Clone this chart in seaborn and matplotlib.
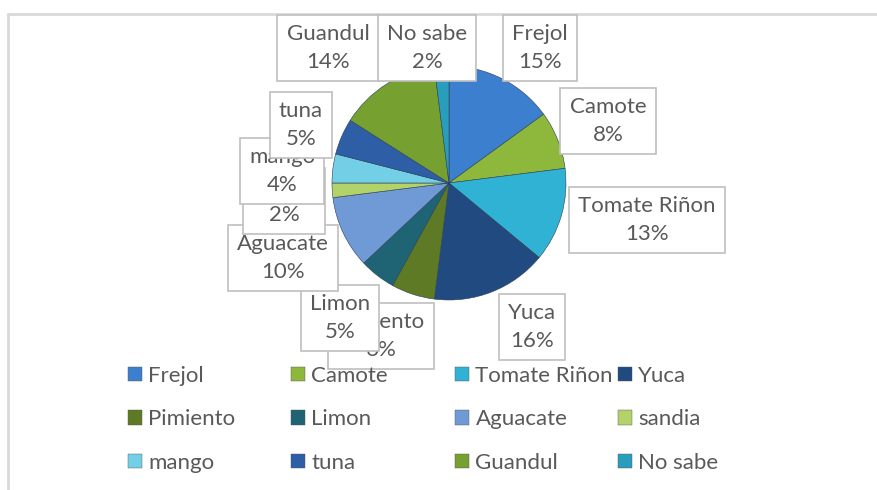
import matplotlib
matplotlib.use("Agg")
import matplotlib.pyplot as plt
import matplotlib.patches as mpatches
from matplotlib.lines import Line2D
import seaborn as sns

# data
cultivos = ["Frejol", "Camote", "Tomate Riñon", "Yuca", "Pimiento", "Limon",
            "Aguacate", "sandia", "mango", "tuna", "Guandul", "No sabe"]
porcentajes = [15, 8, 13, 16, 6, 5, 10, 2, 4, 5, 14, 2]
colores = ["#3d7fcf", "#8db83c", "#30b2d4", "#214a80", "#5e7a24", "#1f6475",
           "#6f9ad6", "#b3d36a", "#72cfe6", "#2e5ea6", "#76a02f", "#2a9cbc"]

# label box centres (pixels from top-left)
label_pos = [(540, 48), (608, 121), (647, 220), (532, 327), (381, 336), (340, 318),
             (283, 258), (284, 201), (282, 171), (301, 125), (328, 48), (427, 48)]

W, H = 877, 490
sns.set_style("white")
plt.rcParams["font.family"] = ["Lato", "DejaVu Sans"]
txt_color = "#595959"
fs = 16

fig = plt.figure(figsize=(W / 100, H / 100), dpi=100)

# chart frame (top and left lines)
fig.add_artist(Line2D([8 / W, 8 / W], [0, 1 - 14 / H], color="#d9d9d9", lw=2))
fig.add_artist(Line2D([8 / W, 1], [1 - 14 / H, 1 - 14 / H], color="#d9d9d9", lw=2))

# pie
cx, cy, r = 449, 183, 117
ax = fig.add_axes([(cx - r) / W, (H - cy - r) / H, 2 * r / W, 2 * r / H])
ax.pie(porcentajes, colors=colores, startangle=90, counterclock=False,
       wedgeprops=dict(edgecolor="#2b3f55", linewidth=0.4))
ax.set_xlim(-1, 1)
ax.set_ylim(-1, 1)
ax.axis("off")

# data labels
for i, (name, pct) in enumerate(zip(cultivos, porcentajes)):
    x, y = label_pos[i]
    fig.text(x / W, 1 - y / H, f"{name}\n{pct}%", ha="center", va="center",
             multialignment="center", fontsize=fs, color=txt_color,
             linespacing=1.5, zorder=5 + i,
             bbox=dict(boxstyle="square,pad=0.42", fc="white", ec="#bfbfbf", lw=1.2))

# legend: four columns, three rows
col_x = [128, 291, 455, 618]
for c in range(4):
    idx = [c, c + 4, c + 8]
    handles = [mpatches.Patch(facecolor=colores[k], edgecolor="#555555", lw=0.3) for k in idx]
    leg = fig.legend(handles, [cultivos[k] for k in idx], loc="upper left",
                     bbox_to_anchor=(col_x[c] / W, 1 - 366 / H), frameon=False,
                     fontsize=fs, handlelength=0.62, handleheight=0.62,
                     handletextpad=0.3, labelspacing=1.05, borderpad=0,
                     borderaxespad=0)
    for t in leg.get_texts():
        t.set_color(txt_color)
    leg.set_zorder(30)

fig.savefig("out.png", dpi=100)
